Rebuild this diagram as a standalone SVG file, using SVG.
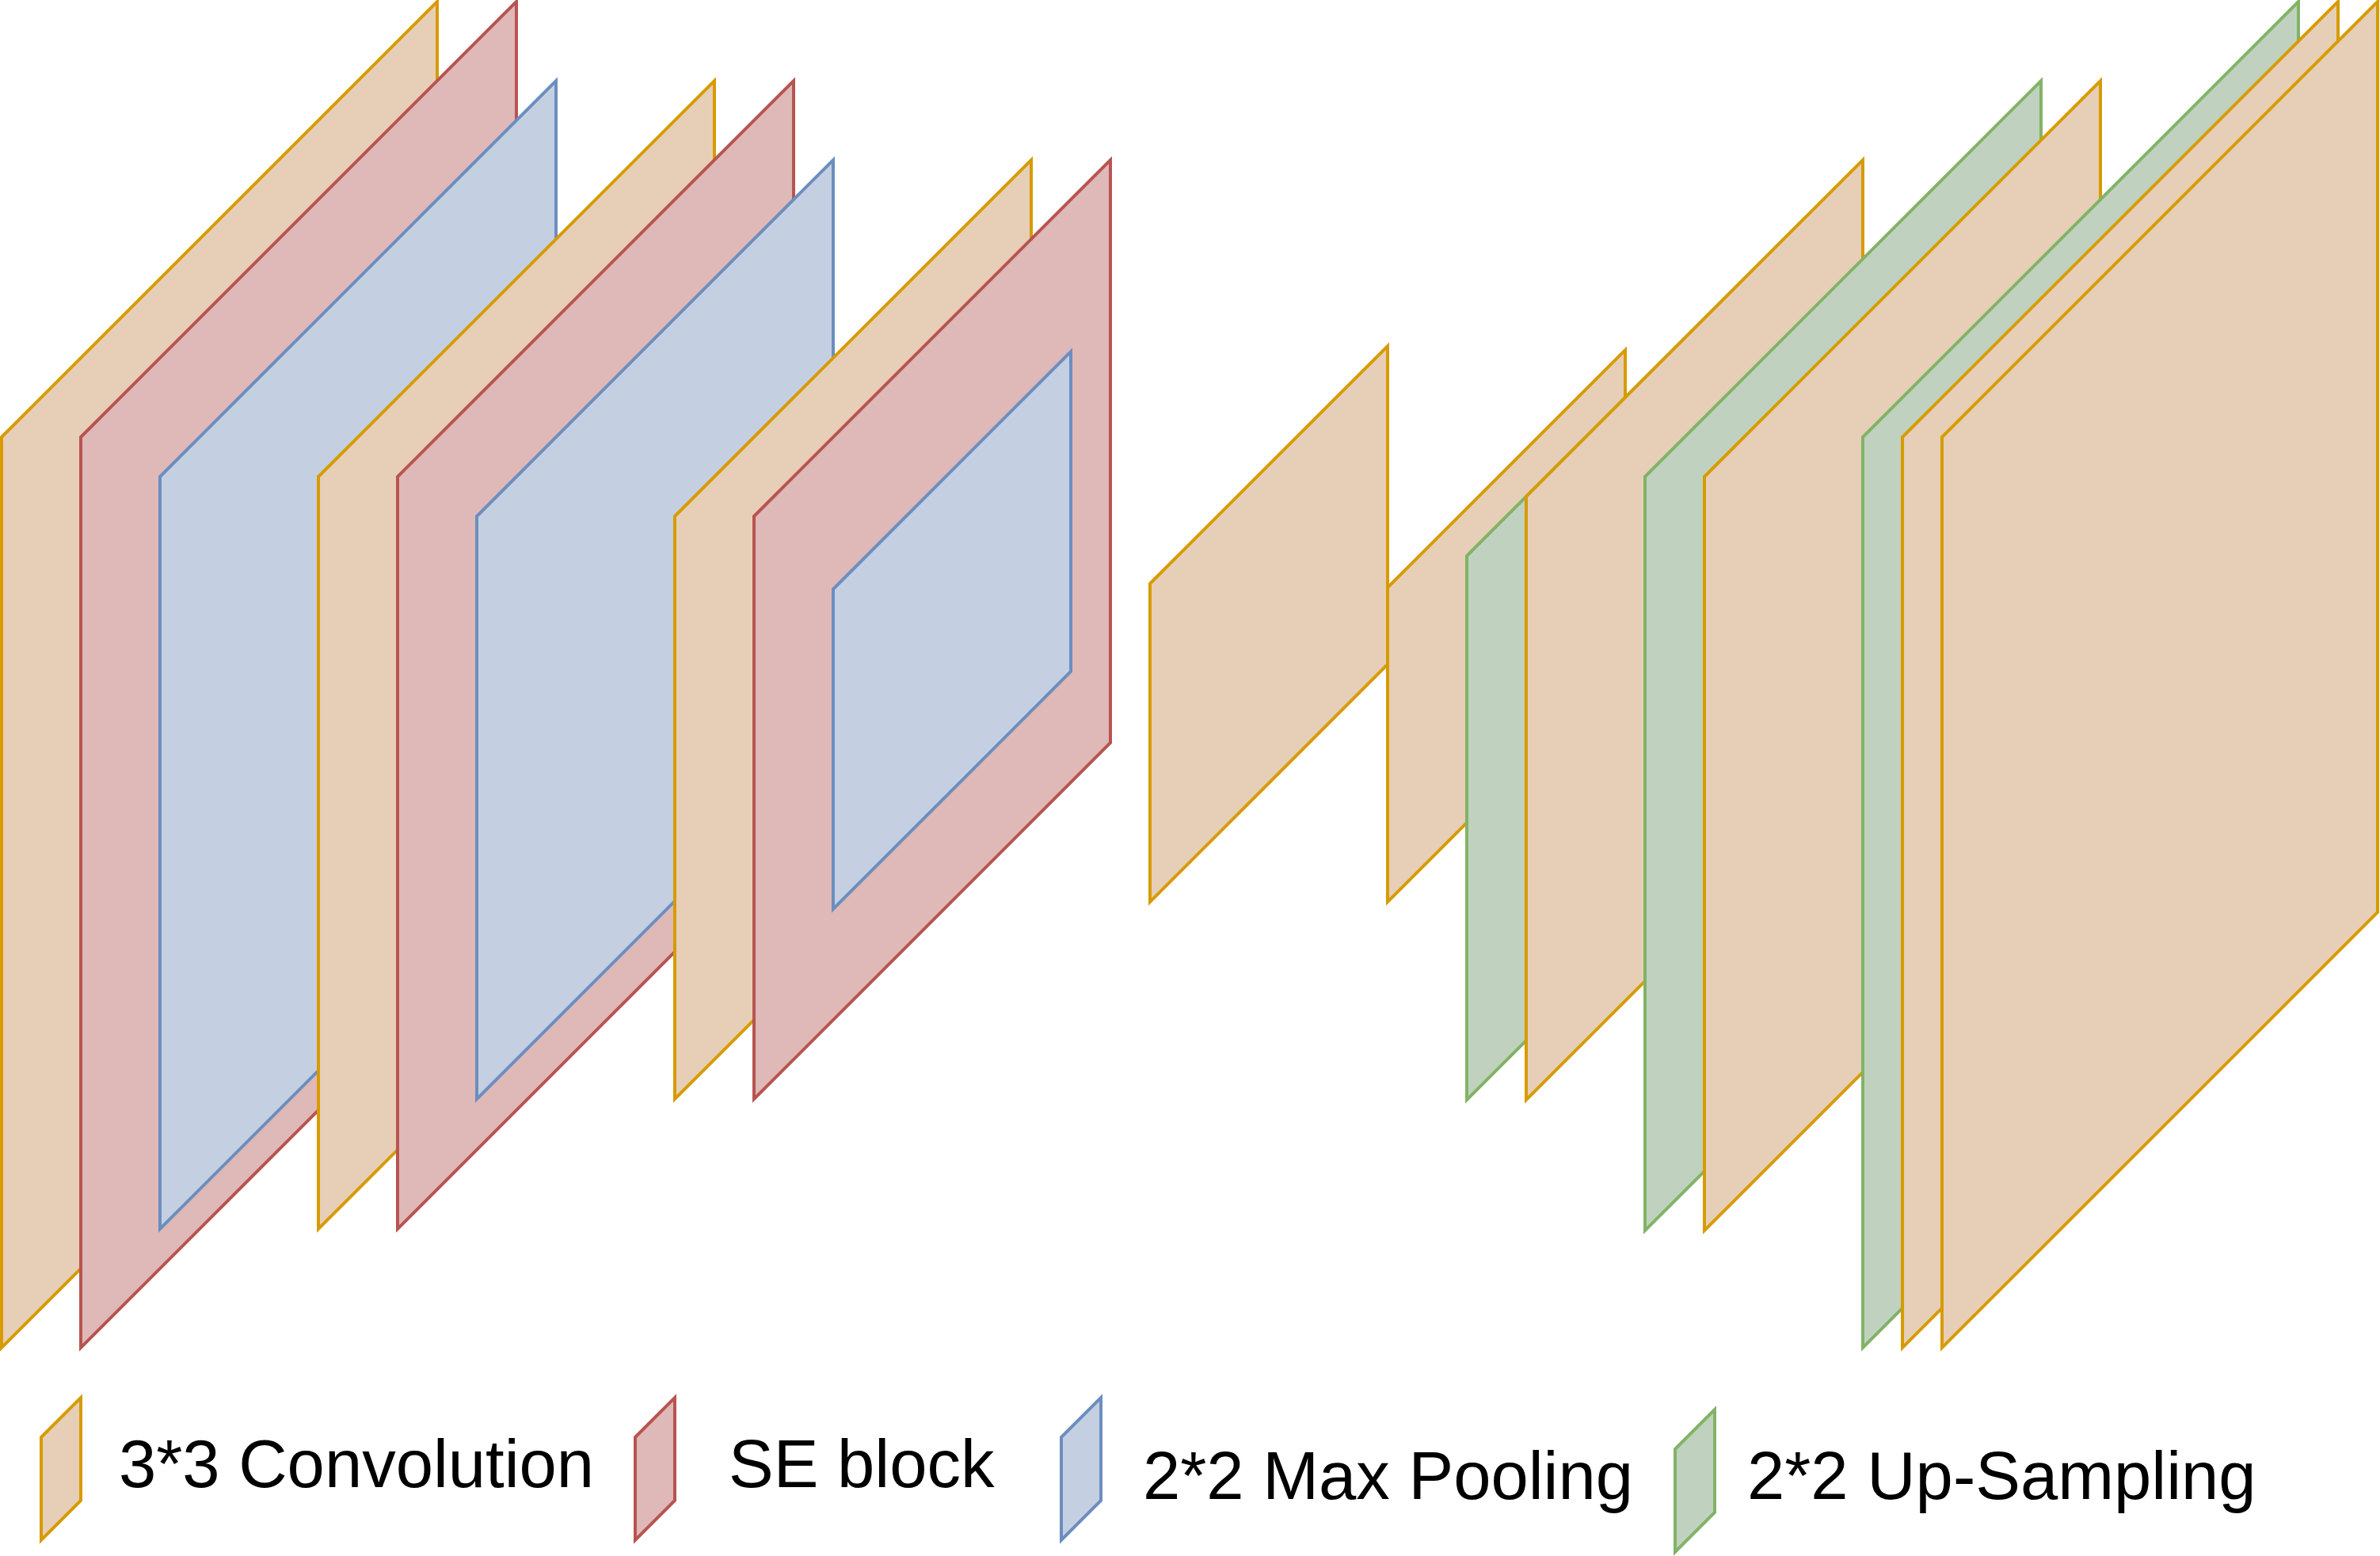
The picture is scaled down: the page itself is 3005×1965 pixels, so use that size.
<svg xmlns="http://www.w3.org/2000/svg" width="3005" height="1965" viewBox="0 0 3005 1965">
<style>
.conv{fill:#E6CFB6;stroke:#D79B00;stroke-width:4;stroke-linejoin:miter}
.se{fill:#DFB8B8;stroke:#B85450;stroke-width:4}
.pool{fill:#C4D0E1;stroke:#6C8EBF;stroke-width:4}
.up{fill:#C0D2BF;stroke:#82B366;stroke-width:4}
.lbl{font-family:"Liberation Sans",Arial,sans-serif;font-size:85px;fill:#000}
</style>
<rect width="3005" height="1965" fill="#ffffff"/>
<g id="layers">
<g id="conv1"><polygon class="conv" points="2,552 552,2 552,1152 2,1702"/></g>
<g id="se1"><polygon class="se" points="102,552 652,2 652,1152 102,1702"/></g>
<g id="pool1"><polygon class="pool" points="202,602 702,102 702,1052 202,1552"/></g>
<g id="conv2"><polygon class="conv" points="402,602 902,102 902,1052 402,1552"/></g>
<g id="se2"><polygon class="se" points="502,602 1002,102 1002,1052 502,1552"/></g>
<g id="pool2"><polygon class="pool" points="602,652 1052,202 1052,938 602,1388"/></g>
<g id="conv3"><polygon class="conv" points="852,652 1302,202 1302,938 852,1388"/></g>
<g id="se3"><polygon class="se" points="952,652 1402,202 1402,938 952,1388"/></g>
<g id="pool3"><polygon class="pool" points="1052,744 1352,444 1352,848 1052,1148"/></g>
<g id="conv4"><polygon class="conv" points="1452,737 1752,437 1752,839 1452,1139"/></g>
<g id="conv5"><polygon class="conv" points="1752,742 2052,442 2052,839 1752,1139"/></g>
<g id="up1"><polygon class="up" points="1852,702 2277,277 2277,964 1852,1389"/></g>
<g id="conv6"><polygon class="conv" points="1927,627 2352,202 2352,964 1927,1389"/></g>
<g id="up2"><polygon class="up" points="2077,602 2577,102 2577,1054 2077,1554"/></g>
<g id="conv7"><polygon class="conv" points="2152,602 2652,102 2652,1054 2152,1554"/></g>
<g id="up3"><polygon class="up" points="2352,552 2902,2 2902,1152 2352,1702"/></g>
<g id="conv8"><polygon class="conv" points="2402,552 2952,2 2952,1152 2402,1702"/></g>
<g id="conv9"><polygon class="conv" points="2452,552 3002,2 3002,1152 2452,1702"/></g>
</g>
<g id="connectors"></g>
<g id="legend">
<g id="legend-conv"><polygon class="conv" points="52,1815 102,1765 102,1895 52,1945"/><text class="lbl" x="150" y="1878">3*3 Convolution</text></g>
<g id="legend-se"><polygon class="se" points="802,1815 852,1765 852,1895 802,1945"/><text class="lbl" x="920" y="1878">SE block</text></g>
<g id="legend-pool"><polygon class="pool" points="1340,1815 1390,1765 1390,1895 1340,1945"/><text class="lbl" x="1443" y="1893">2*2 Max Pooling</text></g>
<g id="legend-up"><polygon class="up" points="2115,1830 2165,1780 2165,1910 2115,1960"/><text class="lbl" x="2206" y="1893">2*2 Up-Sampling</text></g>
</g>
</svg>
